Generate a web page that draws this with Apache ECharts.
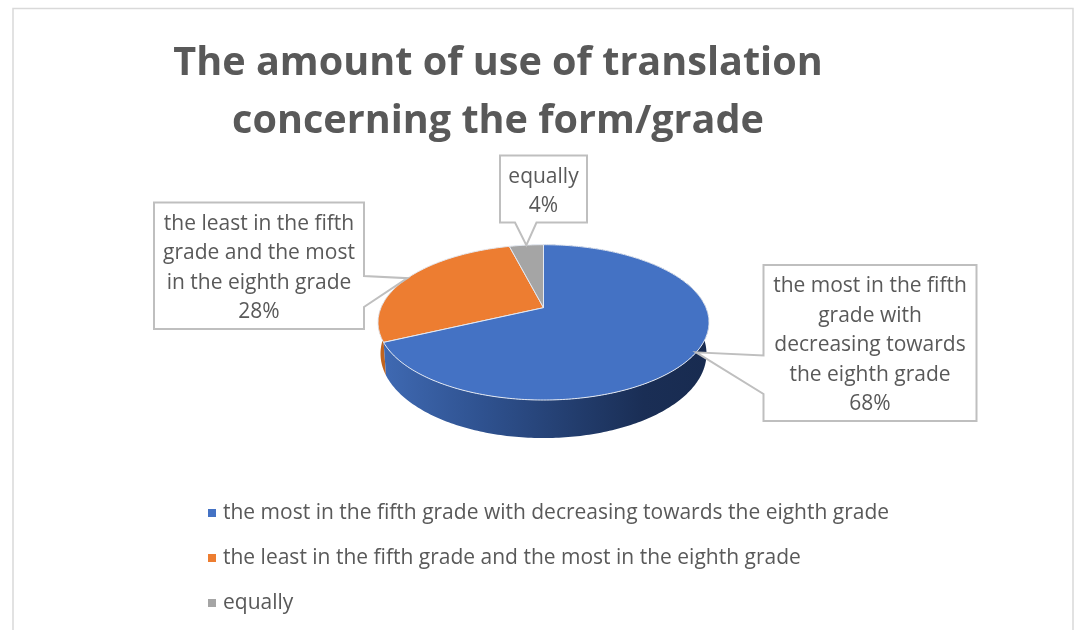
<!DOCTYPE html>
<html><head><meta charset="utf-8">
<style>html,body{margin:0;padding:0;background:#fff}#c{width:1080px;height:630px}</style>
<script src="https://cdn.jsdelivr.net/npm/echarts@6/dist/echarts.min.js"></script>
</head><body><div id="c"></div>
<script>
const titleText = 'The amount of use of translation\nconcerning the form/grade';
const categories = [
  'the most in the fifth grade with decreasing towards the eighth grade',
  'the least in the fifth grade and the most in the eighth grade',
  'equally'
];
const shares = [68, 28, 4];
const calloutLines = [
  'the most in the fifth\ngrade with\ndecreasing towards\nthe eighth grade',
  'the least in the fifth\ngrade and the most\nin the eighth grade',
  'equally'
];
const colors = ['#4472c4', '#ed7d31', '#a5a5a5'];

// layout of the perspective disc and of the callouts
const FONT = '"Open Sans", "Noto Sans", sans-serif';
const disc = {cx: 543.5, apexY: 307.7, midY: 322.3, a: 162.5, b: 74.9, k: 0.1887, sx: 0.985, sy: 1.087, dy: 31.3};
const boxes = [
  {x: 763.5, y: 265, w: 213, h: 156, p1: [763.5, 394], p2: [763.5, 355.5]},
  {x: 154, y: 202.5, w: 210, h: 126.5, p1: [364, 276], p2: [364, 307]},
  {x: 500, y: 155.5, w: 87, h: 67, p1: [536.5, 222.5], p2: [515, 222.5]}
];
const total = shares.reduce((s, v) => s + v, 0);
const starts = shares.map((_, i) => shares.slice(0, i).reduce((s, v) => s + v, 0));

function rim(t) {
  const th = t / total * Math.PI * 2, u = Math.sin(th), v = -Math.cos(th), w = 1 - disc.k * v;
  return [disc.cx + disc.a * u / w, disc.apexY + disc.b * v / w];
}
function low(t) {
  const p = rim(t);
  return [disc.cx + (p[0] - disc.cx) * disc.sx, disc.midY + (p[1] - disc.midY) * disc.sy + disc.dy];
}
function arc(fn, a, b) {
  const n = Math.max(6, Math.ceil(Math.abs(b - a) * 4)), out = [];
  for (let i = 0; i <= n; i++) out.push(fn(a + (b - a) * i / n));
  return out;
}
function wallRange(i, from, to) {
  if (i === 0) return [from, to];
  if (i === 1) return [from, from + (to - from) * 0.5];
  return null;
}
function wallFill(i) {
  if (i === 0) {
    return new echarts.graphic.LinearGradient(0, 0, 1, 0, [
      {offset: 0, color: '#3f69b2'}, {offset: 0.3, color: '#2f5290'},
      {offset: 0.6, color: '#223c6c'}, {offset: 0.8, color: '#1a2e55'}, {offset: 1, color: '#182b50'}
    ]);
  }
  return '#c0641f';
}
function renderSlice(i, api) {
  const from = starts[i], to = from + api.value(0), children = [];
  const range = wallRange(i, from, to);
  if (range) {
    const pts = arc(rim, range[0], range[1]).concat(arc(low, range[0], range[1]).reverse());
    children.push({type: 'polygon', shape: {points: pts}, style: {fill: wallFill(i)}});
  }
  children.push({
    type: 'polygon',
    shape: {points: [[disc.cx, disc.apexY]].concat(arc(rim, from, to))},
    style: {fill: colors[i], stroke: '#e4e9f2', lineWidth: 1}
  });
  const b = boxes[i], tip = rim(from + api.value(0) / 2), R = b.x + b.w, B = b.y + b.h;
  let outline;
  if (i === 0) outline = [[b.x, b.y], [R, b.y], [R, B], [b.x, B], b.p1, tip, b.p2];
  else if (i === 1) outline = [[b.x, b.y], [R, b.y], b.p1, tip, b.p2, [R, B], [b.x, B]];
  else outline = [[b.x, b.y], [R, b.y], [R, B], b.p1, tip, b.p2, [b.x, B]];
  children.push({type: 'polygon', shape: {points: outline},
    style: {fill: '#fff', stroke: '#bfbfbf', lineWidth: 2, lineJoin: 'miter'}});
  children.push({type: 'text', style: {
    x: b.x + b.w / 2, y: b.y + b.h / 2 + 2.5,
    text: calloutLines[i] + '\n' + api.value(0) + '%',
    fill: '#595959', font: '21px ' + FONT, align: 'center', verticalAlign: 'middle', lineHeight: 29.5
  }});
  return {type: 'group', children};
}

const chart = echarts.init(document.getElementById('c'), null, {renderer: 'canvas'});
chart.setOption({
  animation: false,
  backgroundColor: '#fff',
  title: {
    text: titleText, left: 493, top: 30, textAlign: 'center',
    textStyle: {fontFamily: FONT, fontSize: 39.6, fontWeight: 'bold', color: '#595959', lineHeight: 58}
  },
  legend: {
    orient: 'vertical', left: 203, top: 495, itemWidth: 8, itemHeight: 8, itemGap: 19,
    icon: 'rect', selectedMode: false, data: categories,
    textStyle: {fontFamily: FONT, fontSize: 21, color: '#595959', lineHeight: 26, padding: [0, 0, 0, 2]}
  },
  graphic: [{
    type: 'polyline', silent: true, z: -1,
    shape: {points: [[13, 640], [13, 8.5], [1073, 8.5], [1073, 640]]},
    style: {stroke: '#d9d9d9', lineWidth: 1.5, fill: null}
  }],
  series: categories.map((name, i) => ({
    type: 'custom', name, coordinateSystem: 'none', silent: true,
    z: [2, 1, 3][i],
    itemStyle: {color: colors[i]},
    data: [[shares[i]]],
    renderItem: (params, api) => renderSlice(i, api)
  }))
});
</script></body></html>
